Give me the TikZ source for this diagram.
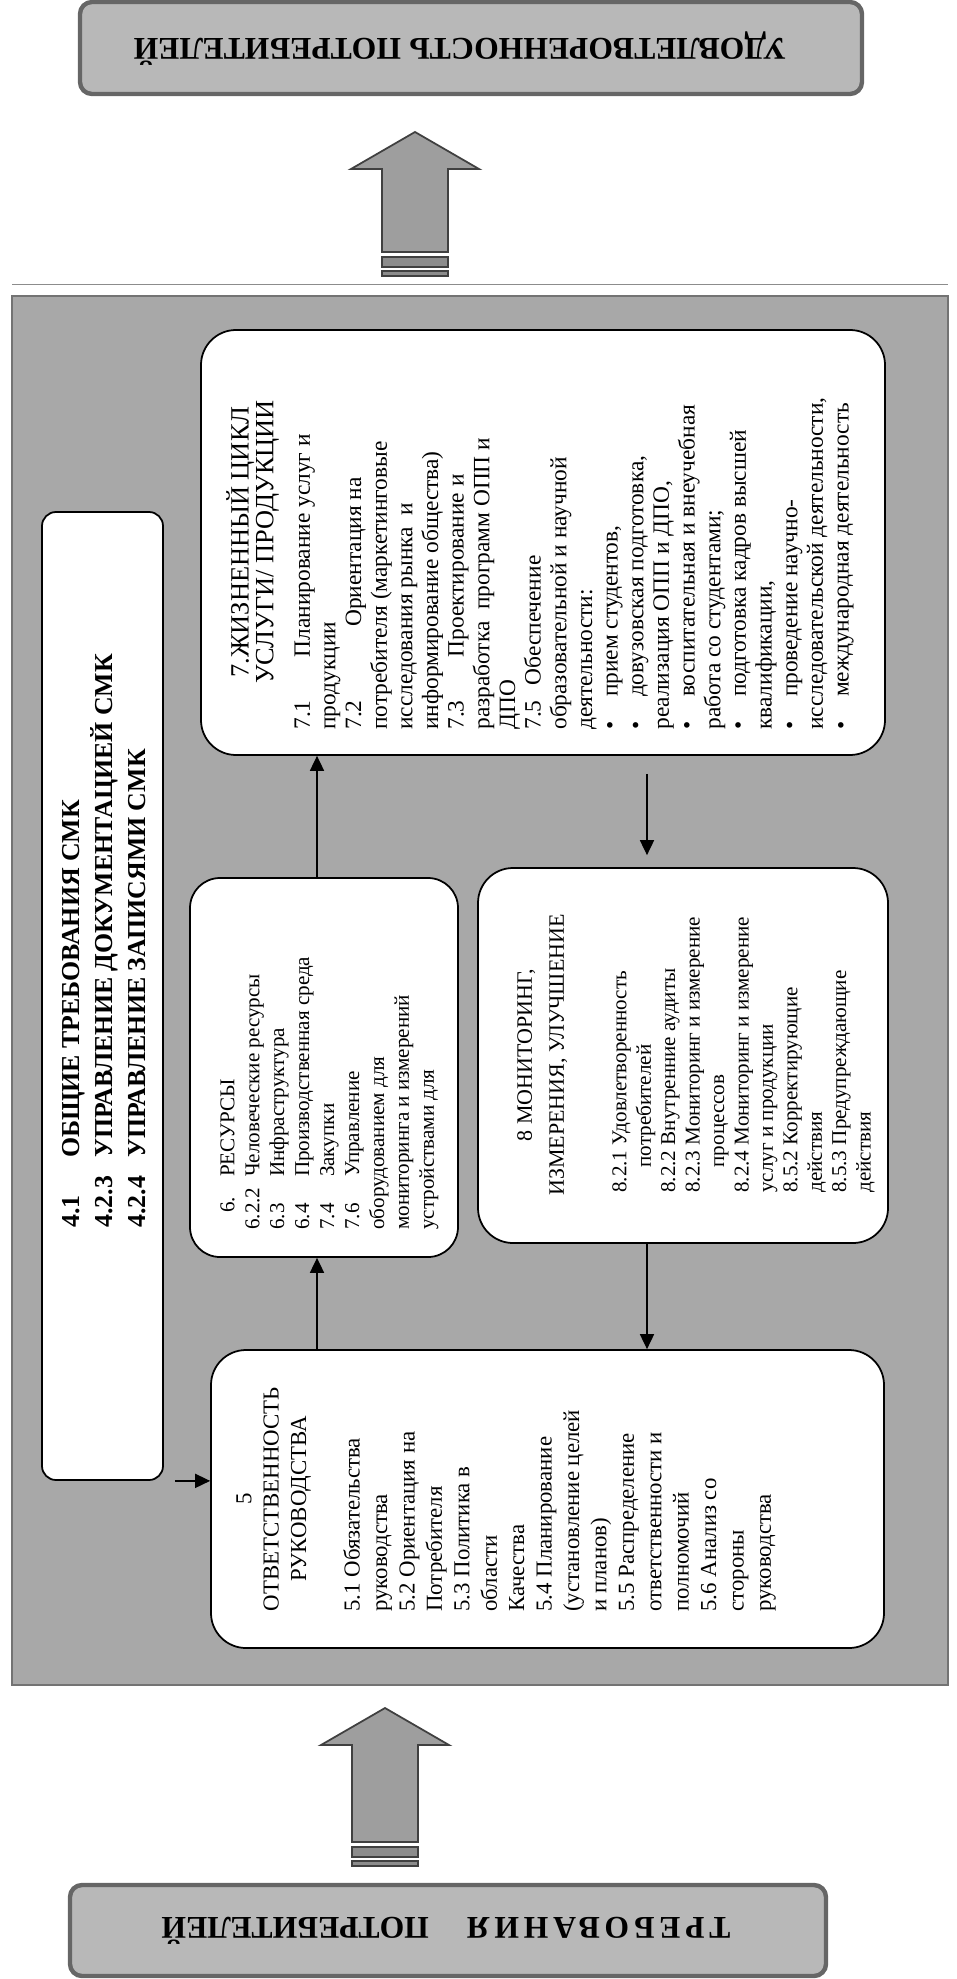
\documentclass[tikz,border=0pt]{standalone}
\usepackage{fontspec}
\setmainfont{Liberation Serif}
\usetikzlibrary{arrows.meta,positioning,calc,fit}

\definecolor{panelgray}{gray}{0.66}
\definecolor{bargray}{gray}{0.72}
\definecolor{barline}{gray}{0.40}
\definecolor{arrowgray}{gray}{0.62}

\begin{document}
\begin{tikzpicture}[x=0.2mm,y=-0.2mm,
  panel/.style={draw=black!55,line width=0.6pt,fill=panelgray,inner sep=0pt},
  bar/.style={draw=barline,line width=2.5pt,fill=bargray,rounded corners=2.4mm,inner sep=0pt},
  bartext/.style={font=\fontsize{18}{22}\selectfont\bfseries,inner sep=0pt},
  box/.style={draw=black,line width=1pt,fill=white,rounded corners=7mm,inner sep=0pt},
  txt/.style={rotate=90,anchor=north west,align=left,inner sep=0pt},
  ttl/.style={rotate=90,anchor=north,align=center,inner sep=0pt},
  flow/.style={line width=0.8pt,-{Triangle[length=8.5pt,width=8pt]}},
  blockarrow/.style={draw=black!75,line width=1pt,fill=arrowgray},
  stripe/.style={draw=black!75,line width=0.6pt,fill=black!45}]

  \useasboundingbox (0,0) rectangle (957,1979);

  % satisfaction (top) and requirements (bottom)
  \node[bar,fit={(80,2) (862,94)}] (sat) {};
  \node[bartext,rotate=180] (satText) at (460,49) {УДОВЛЕТВОРЕННОСТЬ ПОТРЕБИТЕЛЕЙ};
  \node[bar,fit={(70,1885) (826,1976)}] (req) {};
  \node[bartext,rotate=180] (reqText) at (446,1931)
    {{\addfontfeature{LetterSpace=15}ТРЕБОВАНИЯ}\hspace{1.2em}ПОТРЕБИТЕЛЕЙ};

  % block arrows
  \foreach \cx/\ty/\by in {415/132/252, 385/1708/1842} {
    \draw[blockarrow] (\cx,\ty) -- (\cx+64,\ty+37) -- (\cx+33,\ty+37) -- (\cx+33,\by)
      -- (\cx-33,\by) -- (\cx-33,\ty+37) -- (\cx-64,\ty+37) -- cycle;
    \draw[stripe] (\cx-33,\by+5) rectangle (\cx+33,\by+15);
    \draw[stripe] (\cx-33,\by+19) rectangle (\cx+33,\by+24);
  }

  % QMS panel
  \draw[black!45,line width=0.5pt] (12,284) -- (948,284);
  \node[panel,fit={(12,296) (948,1685)}] (smk) {};

  % process boxes
  \node[box,rounded corners=2.8mm,fit={(42,512) (163,1480)}] (gen) {};
  \node[box,fit={(211,1350) (884,1648)}] (resp) {};
  \node[box,rounded corners=6mm,fit={(190,878) (458,1257)}] (res) {};
  \node[box,fit={(201,330) (885,755)}] (life) {};
  \node[box,fit={(478,868) (888,1243)}] (mon) {};

  % 4
  \node[txt,font=\fontsize{14.7}{18.8}\selectfont\bfseries] (genText) at (62,1228)
    {\makebox[2.7em][l]{4.1}ОБЩИЕ ТРЕБОВАНИЯ СМК\\
     \makebox[2.7em][l]{4.2.3}УПРАВЛЕНИЕ ДОКУМЕНТАЦИЕЙ СМК\\
     \makebox[2.7em][l]{4.2.4}УПРАВЛЕНИЕ ЗАПИСЯМИ СМК};

  % 5
  \node[ttl,font=\fontsize{13}{15.6}\selectfont] (respTitle) at (236,1499)
    {5\\ОТВЕТСТВЕННОСТЬ\\РУКОВОДСТВА};
  \node[txt,font=\fontsize{13}{15.6}\selectfont] (respText) at (343,1612)
    {5.1 Обязательства\\руководства\\5.2 Ориентация на\\Потребителя\\
     5.3 Политика в\\области\\Качества\\5.4 Планирование\\(установление целей\\
     и планов)\\5.5 Распределение\\ответственности и\\полномочий\\5.6 Анализ со\\
     стороны\\руководства};

  % 6
  \node[txt,font=\fontsize{12}{14.2}\selectfont] (resText) at (220,1230)
    {\hspace*{0.8em}\makebox[1.7em][l]{6.}РЕСУРСЫ\\
     \makebox[2.5em][l]{6.2.2}Человеческие ресурсы\\
     \makebox[2.5em][l]{6.3}Инфраструктура\\
     \makebox[2.5em][l]{6.4}Производственная среда\\
     \makebox[2.5em][l]{7.4}Закупки\\
     \makebox[2.5em][l]{7.6}Управление\\
     оборудованием для\\мониторинга и измерений\\устройствами для};

  % 7
  \node[ttl,font=\fontsize{15}{14}\selectfont] (lifeTitle) at (226,542)
    {7.ЖИЗНЕННЫЙ ЦИКЛ\\УСЛУГИ/ ПРОДУКЦИИ};
  \node[txt,font=\fontsize{13.3}{14.6}\selectfont] (lifeText) at (294,730)
    {\makebox[3.1em][l]{7.1}Планирование услуг и\\продукции\\
     \makebox[4.4em][l]{7.2}Ориентация на\\потребителя (маркетинговые\\
     исследования рынка~ и\\информирование общества)\\
     \makebox[3.1em][l]{7.3}Проектирование и\\разработка~ программ ОПП и\\ДПО\\
     \makebox[1.9em][l]{7.5}Обеспечение\\образовательной и научной\\деятельности:\\
     \makebox[1.4em][l]{•}прием студентов,\\
     \makebox[1.4em][l]{•}довузовская подготовка,\\реализация ОПП и ДПО,\\
     \makebox[1.4em][l]{•}воспитательная и внеучебная\\работа со студентами;\\
     \makebox[1.4em][l]{•}подготовка кадров высшей\\квалификации,\\
     \makebox[1.4em][l]{•}проведение научно-\\исследовательской деятельности,\\
     \makebox[1.4em][l]{•}международная деятельность};

  % 8
  \node[ttl,font=\fontsize{12.5}{18.2}\selectfont] (monTitle) at (517,1055)
    {8 МОНИТОРИНГ,\\ИЗМЕРЕНИЯ, УЛУЧШЕНИЕ};
  \node[txt,font=\fontsize{12}{13.9}\selectfont] (monText) at (612,1193)
    {8.2.1 Удовлетворенность\\\hspace*{1.2em}потребителей\\
     8.2.2 Внутренние аудиты\\8.2.3 Мониторинг и измерение\\\hspace*{1.2em}процессов\\
     8.2.4 Мониторинг и измерение\\услуг и продукции\\8.5.2 Корректирующие\\действия\\
     8.5.3 Предупреждающие\\действия};

  % links between the processes
  \coordinate (upx) at (317,0);
  \coordinate (downx) at (647,0);
  \draw[flow,shorten <=2.2mm] (gen.south east) -- (gen.south east -| resp.west);
  \draw[flow] (resp.north -| upx) -- (res.south -| upx);
  \draw[flow] (res.north -| upx) -- (life.south -| upx);
  \draw[flow,shorten <=3.6mm,shorten >=2.4mm] (life.south -| downx) -- (mon.north -| downx);
  \draw[flow] (mon.south -| downx) -- (resp.north -| downx);

\end{tikzpicture}
\end{document}
